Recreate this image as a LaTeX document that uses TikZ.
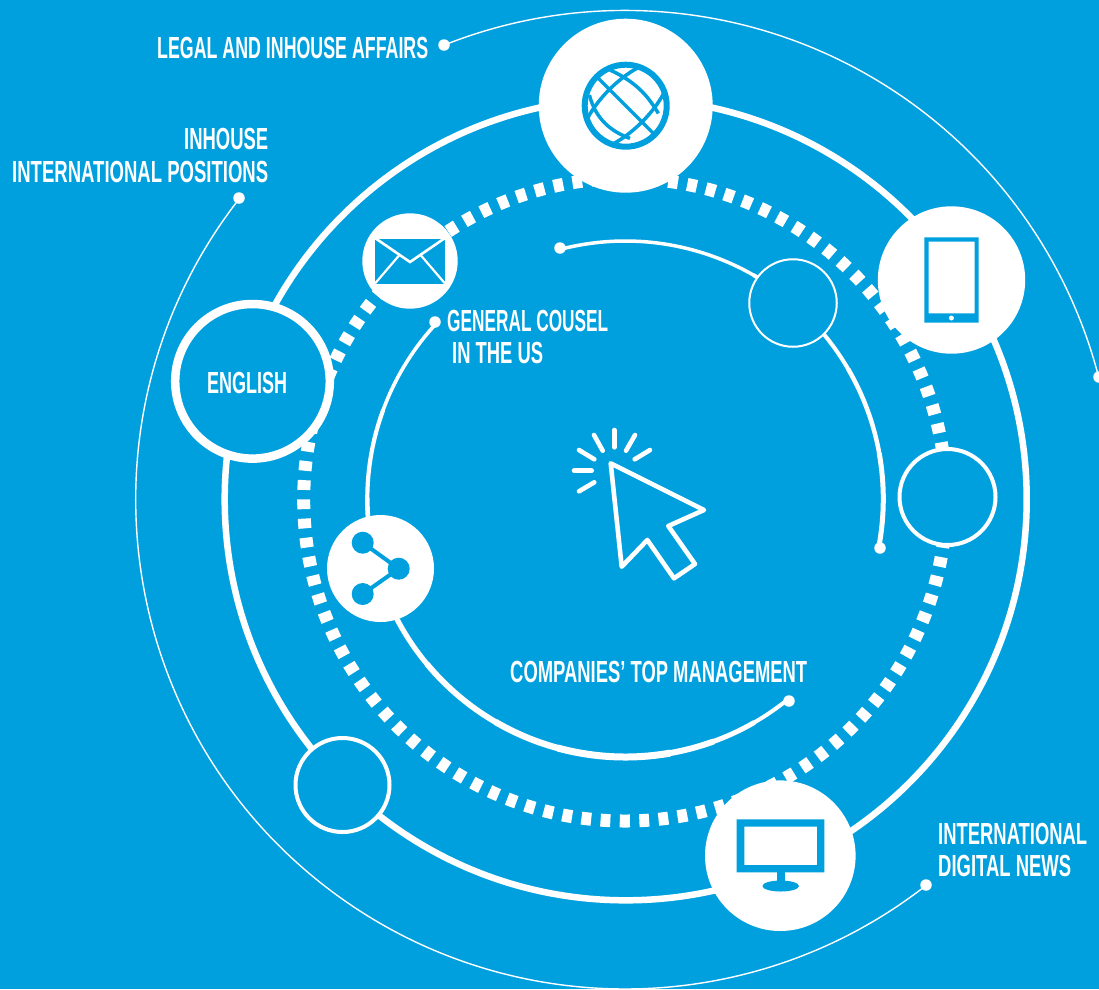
\documentclass[tikz,border=0pt]{standalone}
\usepackage{fontspec}
\usepackage{graphicx}
\setmainfont{Liberation Sans}
\definecolor{bg}{HTML}{00A0DF}
\newcommand{\fitw}[2]{\resizebox{#1pt}{\height}{\fontsize{30.5}{31}\selectfont\bfseries #2}}
\tikzset{
  thinring/.style={draw=white,line width=1.4pt},
  mainring/.style={draw=white,line width=6.5pt},
  dashring/.style={draw=white,line width=13pt,dash pattern=on 9.8pt off 9.426pt,dash phase=4.9pt},
  innerring/.style={draw=white},
  disc/.style={circle,fill=white,inner sep=0pt},
  hollow/.style={circle,draw=white,fill=bg,inner sep=0pt},
  dotend/.style={circle,fill=white,inner sep=0pt,minimum size=11.5pt},
  lbl/.style={text=white,inner sep=0pt,anchor=base west},
  ico/.style={fill=bg,draw=none},
  icoline/.style={draw=bg,line width=3.5pt},
  curs/.style={draw=white,line width=4.6pt,line cap=round,line join=round}
}
\begin{document}
\begin{tikzpicture}[x=1pt,y=1pt]
\useasboundingbox (0,-989) rectangle (1099,0);
\fill[bg] (0,-989) rectangle (1099,0);
\coordinate (c) at (625,-499.7);
\coordinate (cm) at (625.7,-499.3);
\coordinate (ci) at (625.3,-499);
% thin outer arcs
\draw[thinring] (c) ++(111.7:489.3pt) arc[start angle=111.7,end angle=14.55,radius=489.3pt];
\draw[thinring] (c) ++(141.96:489.3pt) arc[start angle=141.96,end angle=308.02,radius=489.3pt];
% rings
\draw[mainring] (cm) circle[radius=401pt];
\draw[dashring] (c) ++(-90:321.3pt) arc[start angle=-90,end angle=270,radius=321.3pt];
% inner arcs, whose stroke swells and thins along the way
\foreach \a/\b/\w in {104.5/60/3.5,60.2/30/4,30.2/10/4.5,10.2/-10.66/5}
  \draw[innerring,line width=\w pt] (ci) ++(\a:258pt) arc[start angle=\a,end angle=\b,radius=258pt];
\foreach \a/\b/\w in {136.9/160/3.6,159.8/180/4.2,179.8/200/4.6,199.8/220/5.2,219.8/240/5.8,239.8/255/6.4,254.8/280/7,279.8/290/6,289.8/300/5,299.8/309.2/4}
  \draw[innerring,line width=\w pt] (ci) ++(\a:258pt) arc[start angle=\a,end angle=\b,radius=258pt];
% named dots
\node[dotend] (d1) at (444,-45) {};
\node[dotend] (d2) at (1099,-377) {};
\node[dotend] (d3) at (239,-198) {};
\node[dotend] (d4) at (926,-885) {};
\node[dotend] (d5) at (560,-248) {};
\node[dotend] (d6) at (880,-548) {};
\node[dotend] (d7) at (435,-322) {};
\node[dotend] (d8) at (789,-701) {};
% discs
\node[disc,minimum size=174pt] (globe) at (625.7,-105.7) {};
\node[disc,minimum size=147.4pt] (tablet) at (951.5,-280) {};
\node[disc,minimum size=150.6pt] (monitor) at (780.3,-855.7) {};
\node[disc,minimum size=95.4pt] (mail) at (410,-261) {};
\node[disc,minimum size=107pt] (share) at (380.5,-568.5) {};
\node[hollow,line width=8.5pt,minimum size=154.6pt] (english) at (252.5,-381.3) {};
\node[hollow,line width=2pt,minimum size=87.5pt] (h1) at (793,-303) {};
\node[hollow,line width=4pt,minimum size=96pt] (h2) at (947.5,-497) {};
\node[hollow,line width=4pt,minimum size=94pt] (h3) at (342.5,-785) {};
% globe icon
\begin{scope}[shift={(globe.center)}]
  \begin{scope}
    \clip (0,0) circle[radius=41pt];
    \draw[icoline] (-30,30) -- (30,-30);
    \draw[icoline,rotate=45] (0,0) ellipse[x radius=58pt,y radius=23pt];
    \draw[icoline] (-15.7,35.7) .. controls (14.3,22) and (24,6) .. (32.7,-7.7);
    \draw[icoline] (-36.3,10.7) .. controls (-30,-14) and (-14,-26) .. (4.3,-32.7);
  \end{scope}
  \draw[draw=bg,line width=6pt] (0,0) circle[radius=41pt];
\end{scope}
% tablet icon
\fill[ico,even odd rule] (924.3,-237.3) rectangle (978.7,-322.7) (928.7,-241.7) rectangle (974.7,-313.3);
\fill[white] (951.4,-318) circle[radius=2.5pt];
% monitor icon
\fill[ico,even odd rule] (736.7,-819.3) rectangle (824.3,-872.3) (744.3,-826.7) rectangle (817,-865);
\fill[ico] (777,-872) rectangle (785,-884);
\fill[ico] (780.7,-886) ellipse[x radius=18.3pt,y radius=5.5pt];
% mail icon
\fill[ico] (375,-238.5) rectangle (445,-283.5);
\draw[white,line width=2.6pt] (375,-238) -- (410,-262) -- (445,-238);
\draw[white,line width=2.2pt] (375,-283.5) -- (399,-255.5);
\draw[white,line width=2.2pt] (445,-283.5) -- (421,-255.5);
% share icon
\draw[draw=bg,line width=4pt] (362.7,-542.7) -- (398.7,-568.7) -- (362.7,-594);
\fill[ico] (362.7,-542.7) circle[radius=11pt];
\fill[ico] (398.7,-568.7) circle[radius=11pt];
\fill[ico] (362.7,-594) circle[radius=11pt];
% cursor
\draw[curs] (610.7,-463.3) -- (704,-510) -- (668.3,-526) -- (695,-564) -- (674,-578.3) -- (647.3,-540) -- (621.7,-566.7) -- cycle;
\foreach \ax/\ay/\bx/\by in {614.3/430/614.3/447.3,594/435/602.7/450.7,635/435/626/450.7,650/450/634.7/459.3,579/450/594.3/459.3,574/470.7/591.7/470.7,579/491.3/594.3/482.3}
  \draw[curs] (\ax,-\ay) -- (\bx,-\by);
% labels
\node[lbl] (t1) at (157,-58.5) {\fitw{271}{LEGAL AND INHOUSE AFFAIRS}};
\node[lbl] (t2) at (184,-149) {\fitw{84}{INHOUSE}};
\node[lbl] (t3) at (12,-182) {\fitw{256}{INTERNATIONAL POSITIONS}};
\node[lbl] (t4) at (447,-331) {\fitw{161}{GENERAL COUSEL}};
\node[lbl] (t5) at (452,-363) {\fitw{91}{IN THE US}};
\node[lbl] (t6) at (207,-393) {\fitw{80}{ENGLISH}};
\node[lbl] (t7) at (510,-682) {\fitw{297}{COMPANIES’ TOP MANAGEMENT}};
\node[lbl] (t8) at (938,-844) {\fitw{149}{INTERNATIONAL}};
\node[lbl] (t9) at (938,-876) {\fitw{133}{DIGITAL NEWS}};
\end{tikzpicture}
\end{document}
